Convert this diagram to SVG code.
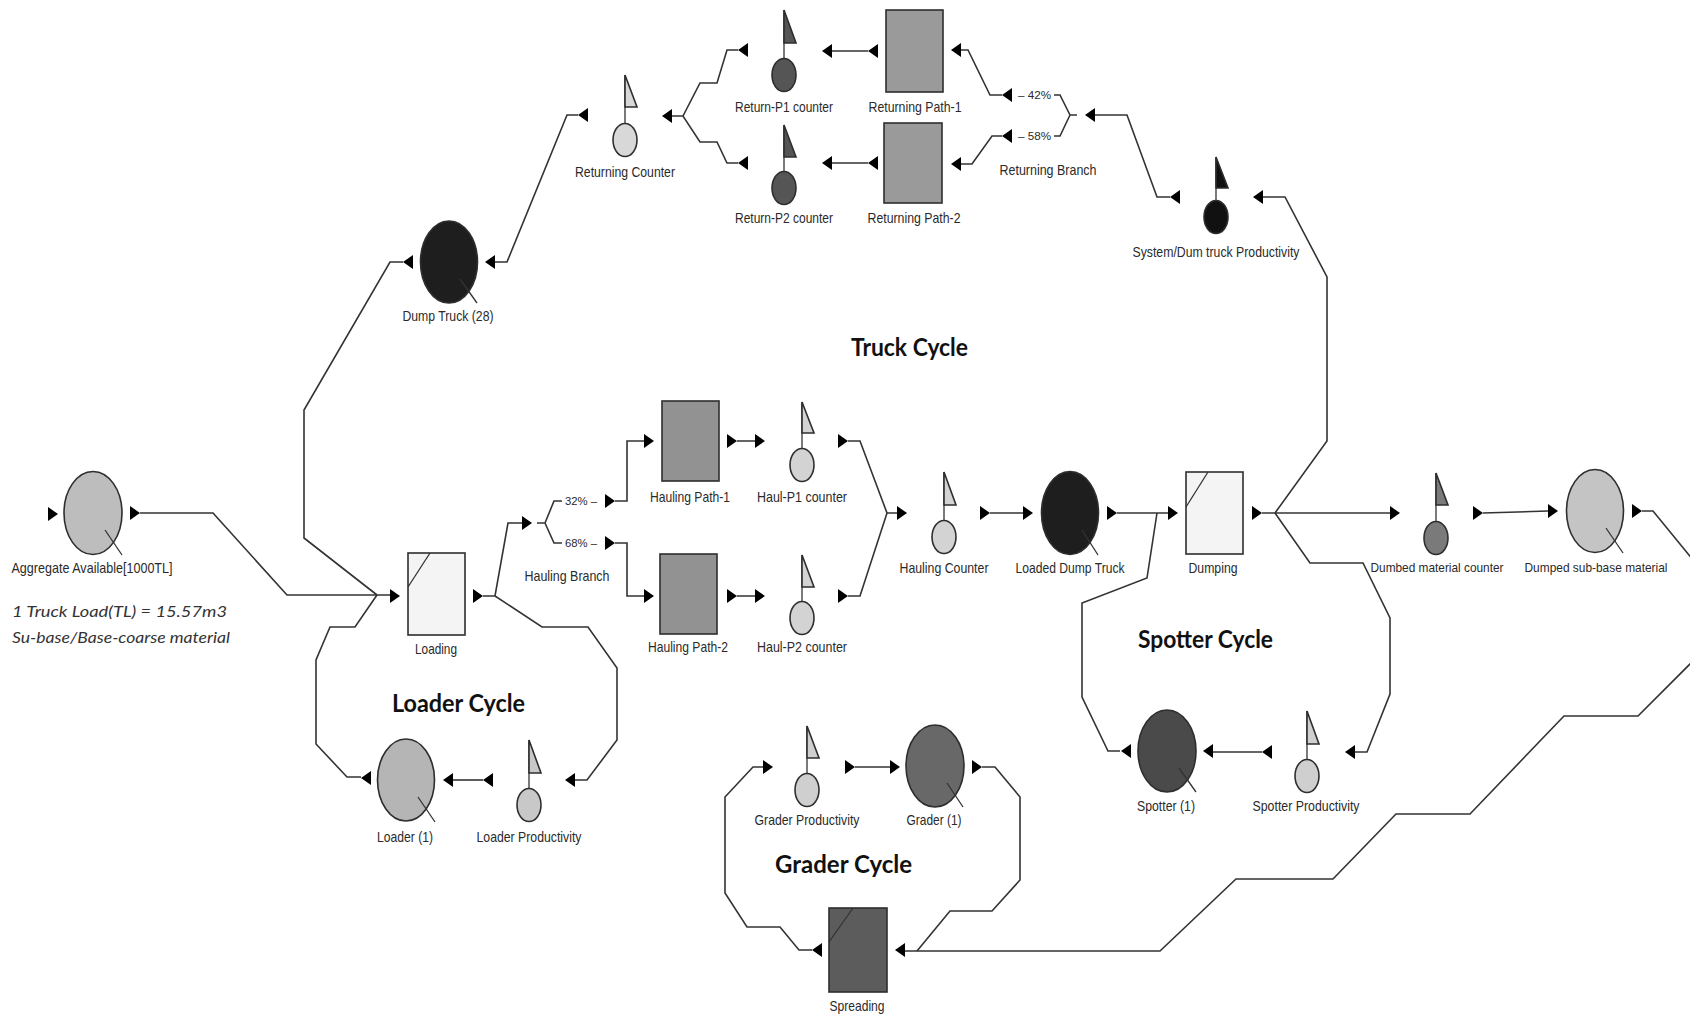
<svg xmlns="http://www.w3.org/2000/svg" width="1690" height="1021" viewBox="0 0 1690 1021">
  <style>
    .bg { fill: #ffffff; }
    .wire { fill: none; stroke: #333333; stroke-width: 1.6; stroke-linejoin: miter; }
    .edge { stroke: #2e2e2e; stroke-width: 1.6; }
    .stub { stroke: #333333; stroke-width: 1.3; }
    .lbl { font-family: "Liberation Sans", Arial, sans-serif; font-size: 15px; fill: #2a2a2a; text-anchor: middle; }
    .sm { font-size: 13px; }
    .pct { font-family: "Liberation Sans", Arial, sans-serif; font-size: 11px; fill: #2a2a2a; }
    .cyc { font-family: Lato, "Noto Sans", sans-serif; font-weight: bold; font-size: 24px; fill: #111111; }
    .note { font-family: Lato, "Liberation Sans", sans-serif; font-style: italic; font-size: 16px; fill: #333333; }
    .head { fill: #000000; }
  </style>
  <defs>
    <!-- port arrowheads, origin at the tip -->
    <path id="ar" class="head" d="M-10,-7 L0,0 L-10,7 Z"/>
    <path id="al" class="head" d="M10,-7 L0,0 L10,7 Z"/>
  </defs>
  <rect class="bg" x="0" y="0" width="1690" height="1021"/>

  <!-- connectors -->
  <g id="connectors">
    <path class="wire" d="M140,513 H213 L287,595 H390"/>
    <path class="wire" d="M403,262 H390 L304,410 V538 L377,595"/>
    <path class="wire" d="M377,595 L355,627 H330 L316,660 V744 L347,777 H361"/>
    <path class="wire" d="M483,596 H495 L508,523 H522"/>
    <path class="wire" d="M495,596 L542,627 H588 L617,668 V740 L587,780 H575"/>
    <path class="wire" d="M537,523 H545 M545,523 L554,501 H562 M545,523 L554,543 H562"/>
    <path class="wire" d="M615,501 H627 V441 H644"/>
    <path class="wire" d="M615,543 H627 V596 H644"/>
    <path class="wire" d="M737,441 H755 M737,596 H755"/>
    <path class="wire" d="M848,441 H860 L887,513 M848,596 H860 L887,513 H897"/>
    <path class="wire" d="M990,513 H1023"/>
    <path class="wire" d="M1117,513 H1168"/>
    <path class="wire" d="M1157,513 L1147,578 L1082,603 V697 L1108,751 H1120"/>
    <path class="wire" d="M1262,513 H1390"/>
    <path class="wire" d="M1275,513 L1327,441 V277 L1285,197 H1263"/>
    <path class="wire" d="M1275,513 L1310,563 H1363 L1390,618 V694 L1367,752 H1355"/>
    <path class="wire" d="M1483,513 L1548,511"/>
    <path class="wire" d="M1642,511 H1653 L1720,593 V634 L1638,716 H1564 L1470,814 H1396 L1333,879 H1236 L1160,951 H905"/>
    <path class="wire" d="M982,767 H995 L1020,797 V880 L992,911 H950 L917,951"/>
    <path class="wire" d="M812,950 H799 L780,927 H747 L725,893 V797 L753,767 H763"/>
    <path class="wire" d="M855,767 H890"/>
    <path class="wire" d="M1262,752 H1213"/>
    <path class="wire" d="M483,780 H453"/>
    <path class="wire" d="M1170,197 H1157 L1127,115 H1095"/>
    <path class="wire" d="M1077,115 H1070 L1060,95 H1054 M1070,115 L1060,136 H1054"/>
    <path class="wire" d="M1002,95 H990 L968,50 H961"/>
    <path class="wire" d="M1002,136 H992 L972,164 H961"/>
    <path class="wire" d="M868,51 H832 M868,163 H832"/>
    <path class="wire" d="M738,50 H727 L717,83 H700 L683,116 M738,163 H727 L717,142 H700 L683,116 H672"/>
    <path class="wire" d="M578,115 H567 L507,262 H495"/>

    <!-- ports pointing right -->
    <use href="#ar" x="58" y="514"/>
    <use href="#ar" x="140" y="513"/>
    <use href="#ar" x="400" y="596"/>
    <use href="#ar" x="483" y="596"/>
    <use href="#ar" x="532" y="523"/>
    <use href="#ar" x="615" y="501"/>
    <use href="#ar" x="615" y="543"/>
    <use href="#ar" x="654" y="441"/>
    <use href="#ar" x="654" y="596"/>
    <use href="#ar" x="737" y="441"/>
    <use href="#ar" x="765" y="441"/>
    <use href="#ar" x="737" y="596"/>
    <use href="#ar" x="765" y="596"/>
    <use href="#ar" x="848" y="441"/>
    <use href="#ar" x="848" y="596"/>
    <use href="#ar" x="907" y="513"/>
    <use href="#ar" x="990" y="513"/>
    <use href="#ar" x="1033" y="513"/>
    <use href="#ar" x="1117" y="513"/>
    <use href="#ar" x="1178" y="513"/>
    <use href="#ar" x="1262" y="513"/>
    <use href="#ar" x="1400" y="513"/>
    <use href="#ar" x="1483" y="513"/>
    <use href="#ar" x="1558" y="511"/>
    <use href="#ar" x="1642" y="511"/>
    <use href="#ar" x="773" y="767"/>
    <use href="#ar" x="855" y="767"/>
    <use href="#ar" x="900" y="767"/>
    <use href="#ar" x="982" y="767"/>

    <!-- ports pointing left -->
    <use href="#al" x="361" y="778"/>
    <use href="#al" x="1121" y="751"/>
    <use href="#al" x="403" y="262"/>
    <use href="#al" x="485" y="262"/>
    <use href="#al" x="578" y="115"/>
    <use href="#al" x="662" y="116"/>
    <use href="#al" x="738" y="50"/>
    <use href="#al" x="738" y="163"/>
    <use href="#al" x="822" y="51"/>
    <use href="#al" x="822" y="163"/>
    <use href="#al" x="868" y="51"/>
    <use href="#al" x="868" y="163"/>
    <use href="#al" x="951" y="50"/>
    <use href="#al" x="951" y="164"/>
    <use href="#al" x="1002" y="95"/>
    <use href="#al" x="1002" y="136"/>
    <use href="#al" x="1085" y="115"/>
    <use href="#al" x="1170" y="197"/>
    <use href="#al" x="1253" y="197"/>
    <use href="#al" x="483" y="780"/>
    <use href="#al" x="565" y="780"/>
    <use href="#al" x="443" y="780"/>
    <use href="#al" x="1203" y="751"/>
    <use href="#al" x="1262" y="752"/>
    <use href="#al" x="1345" y="752"/>
    <use href="#al" x="812" y="950"/>
    <use href="#al" x="895" y="950"/>
  </g>

  <!-- queue nodes -->
  <g id="aggregate-available">
    <ellipse class="edge" cx="93" cy="513" rx="29" ry="41.5" fill="#bdbdbd"/>
    <line class="stub" x1="105" y1="530" x2="122" y2="555"/>
    <text class="lbl" x="92" y="573" textLength="161" lengthAdjust="spacingAndGlyphs">Aggregate Available[1000TL]</text>
  </g>
  <g id="dump-truck">
    <ellipse class="edge" cx="449" cy="262" rx="28.5" ry="41" fill="#1e1e1e"/>
    <line class="stub" x1="460" y1="279" x2="477" y2="303"/>
    <text class="lbl" x="448" y="321" textLength="91" lengthAdjust="spacingAndGlyphs">Dump Truck (28)</text>
  </g>
  <g id="loaded-dump-truck">
    <ellipse class="edge" cx="1070" cy="513" rx="28.5" ry="41.5" fill="#1e1e1e"/>
    <line class="stub" x1="1082" y1="530" x2="1098" y2="555"/>
    <text class="lbl" x="1070" y="573" textLength="109" lengthAdjust="spacingAndGlyphs">Loaded Dump Truck</text>
  </g>
  <g id="dumped-sub-base">
    <ellipse class="edge" cx="1595" cy="511" rx="28.5" ry="41.5" fill="#c4c4c4"/>
    <line class="stub" x1="1606" y1="528" x2="1623" y2="553"/>
    <text class="lbl sm" x="1596" y="572" textLength="143" lengthAdjust="spacingAndGlyphs">Dumped sub-base material</text>
  </g>
  <g id="loader">
    <ellipse class="edge" cx="406" cy="780" rx="28.5" ry="41" fill="#b5b5b5"/>
    <line class="stub" x1="418" y1="797" x2="435" y2="822"/>
    <text class="lbl" x="405" y="842" textLength="56" lengthAdjust="spacingAndGlyphs">Loader (1)</text>
  </g>
  <g id="spotter">
    <ellipse class="edge" cx="1167" cy="751" rx="29" ry="41" fill="#4a4a4a"/>
    <line class="stub" x1="1179" y1="768" x2="1196" y2="792"/>
    <text class="lbl" x="1166" y="811" textLength="58" lengthAdjust="spacingAndGlyphs">Spotter (1)</text>
  </g>
  <g id="grader">
    <ellipse class="edge" cx="935" cy="766" rx="29" ry="41" fill="#686868"/>
    <line class="stub" x1="947" y1="783" x2="963" y2="807"/>
    <text class="lbl" x="934" y="825" textLength="55" lengthAdjust="spacingAndGlyphs">Grader (1)</text>
  </g>

  <!-- activity nodes -->
  <g id="loading">
    <rect class="edge" x="408" y="553" width="57" height="82" fill="#f4f4f4"/>
    <line class="stub" x1="408" y1="587" x2="430" y2="553"/>
    <text class="lbl" x="436" y="654" textLength="42" lengthAdjust="spacingAndGlyphs">Loading</text>
  </g>
  <g id="dumping">
    <rect class="edge" x="1186" y="472" width="57" height="82" fill="#f4f4f4"/>
    <line class="stub" x1="1186" y1="507" x2="1208" y2="472"/>
    <text class="lbl" x="1213" y="573" textLength="49" lengthAdjust="spacingAndGlyphs">Dumping</text>
  </g>
  <g id="spreading">
    <rect class="edge" x="829" y="908" width="58" height="84" fill="#5c5c5c"/>
    <line class="stub" x1="829" y1="942" x2="853" y2="908"/>
    <text class="lbl" x="857" y="1011" textLength="55" lengthAdjust="spacingAndGlyphs">Spreading</text>
  </g>
  <g id="hauling-path-1">
    <rect class="edge" x="662" y="401" width="57" height="80" fill="#929292"/>
    <text class="lbl" x="690" y="502" textLength="80" lengthAdjust="spacingAndGlyphs">Hauling Path-1</text>
  </g>
  <g id="hauling-path-2">
    <rect class="edge" x="660" y="554" width="57" height="80" fill="#929292"/>
    <text class="lbl" x="688" y="652" textLength="80" lengthAdjust="spacingAndGlyphs">Hauling Path-2</text>
  </g>
  <g id="returning-path-1">
    <rect class="edge" x="886" y="10" width="57" height="82" fill="#9a9a9a"/>
    <text class="lbl" x="915" y="112" textLength="93" lengthAdjust="spacingAndGlyphs">Returning Path-1</text>
  </g>
  <g id="returning-path-2">
    <rect class="edge" x="884" y="123" width="58" height="80" fill="#9a9a9a"/>
    <text class="lbl" x="914" y="223" textLength="93" lengthAdjust="spacingAndGlyphs">Returning Path-2</text>
  </g>

  <!-- branch nodes -->
  <g id="hauling-branch">
    <text class="pct" x="565" y="505" textLength="32" lengthAdjust="spacingAndGlyphs">32% –</text>
    <text class="pct" x="565" y="547" textLength="32" lengthAdjust="spacingAndGlyphs">68% –</text>
    <text class="lbl" x="567" y="581" textLength="85" lengthAdjust="spacingAndGlyphs">Hauling Branch</text>
  </g>
  <g id="returning-branch">
    <text class="pct" x="1018" y="99" textLength="33" lengthAdjust="spacingAndGlyphs">– 42%</text>
    <text class="pct" x="1018" y="140" textLength="33" lengthAdjust="spacingAndGlyphs">– 58%</text>
    <text class="lbl" x="1048" y="175" textLength="97" lengthAdjust="spacingAndGlyphs">Returning Branch</text>
  </g>

  <!-- counter nodes -->
  <g id="haul-p1-counter">
    <line class="stub" x1="802" y1="402" x2="802" y2="449"/>
    <path class="edge" d="M802,402 L814,433 H802 Z" fill="#d3d3d3"/>
    <ellipse class="edge" cx="802" cy="465" rx="12" ry="16.5" fill="#d3d3d3"/>
    <text class="lbl" x="802" y="502" textLength="90" lengthAdjust="spacingAndGlyphs">Haul-P1 counter</text>
  </g>
  <g id="haul-p2-counter">
    <line class="stub" x1="802" y1="555" x2="802" y2="602"/>
    <path class="edge" d="M802,555 L814,587 H802 Z" fill="#d3d3d3"/>
    <ellipse class="edge" cx="802" cy="618" rx="12" ry="16.5" fill="#d3d3d3"/>
    <text class="lbl" x="802" y="652" textLength="90" lengthAdjust="spacingAndGlyphs">Haul-P2 counter</text>
  </g>
  <g id="hauling-counter">
    <line class="stub" x1="944" y1="472" x2="944" y2="521"/>
    <path class="edge" d="M944,472 L956,505 H944 Z" fill="#d3d3d3"/>
    <ellipse class="edge" cx="944" cy="537" rx="12" ry="16.5" fill="#d3d3d3"/>
    <text class="lbl" x="944" y="573" textLength="89" lengthAdjust="spacingAndGlyphs">Hauling Counter</text>
  </g>
  <g id="dumbed-material-counter">
    <line class="stub" x1="1436" y1="473" x2="1436" y2="522"/>
    <path class="edge" d="M1436,473 L1448,505 H1436 Z" fill="#7a7a7a"/>
    <ellipse class="edge" cx="1436" cy="538" rx="12" ry="16.5" fill="#7a7a7a"/>
    <text class="lbl sm" x="1437" y="572" textLength="133" lengthAdjust="spacingAndGlyphs">Dumbed material counter</text>
  </g>
  <g id="returning-counter">
    <line class="stub" x1="625" y1="75" x2="625" y2="124"/>
    <path class="edge" d="M625,75 L637,107 H625 Z" fill="#d8d8d8"/>
    <ellipse class="edge" cx="625" cy="140" rx="12" ry="16.5" fill="#d8d8d8"/>
    <text class="lbl" x="625" y="177" textLength="100" lengthAdjust="spacingAndGlyphs">Returning Counter</text>
  </g>
  <g id="return-p1-counter">
    <line class="stub" x1="784" y1="10" x2="784" y2="59"/>
    <path class="edge" d="M784,10 L796,43 H784 Z" fill="#555555"/>
    <ellipse class="edge" cx="784" cy="75" rx="12" ry="16.5" fill="#555555"/>
    <text class="lbl" x="784" y="112" textLength="98" lengthAdjust="spacingAndGlyphs">Return-P1 counter</text>
  </g>
  <g id="return-p2-counter">
    <line class="stub" x1="784" y1="125" x2="784" y2="172"/>
    <path class="edge" d="M784,125 L796,157 H784 Z" fill="#555555"/>
    <ellipse class="edge" cx="784" cy="188" rx="12" ry="16.5" fill="#555555"/>
    <text class="lbl" x="784" y="223" textLength="98" lengthAdjust="spacingAndGlyphs">Return-P2 counter</text>
  </g>
  <g id="system-productivity">
    <line class="stub" x1="1216" y1="157" x2="1216" y2="201"/>
    <path class="edge" d="M1216,157 L1228,188 H1216 Z" fill="#111111"/>
    <ellipse class="edge" cx="1216" cy="217" rx="12" ry="16.5" fill="#111111"/>
    <text class="lbl" x="1216" y="257" textLength="167" lengthAdjust="spacingAndGlyphs">System/Dum truck Productivity</text>
  </g>
  <g id="loader-productivity">
    <line class="stub" x1="529" y1="740" x2="529" y2="789"/>
    <path class="edge" d="M529,740 L541,773 H529 Z" fill="#c8c8c8"/>
    <ellipse class="edge" cx="529" cy="805" rx="12" ry="16.5" fill="#c8c8c8"/>
    <text class="lbl" x="529" y="842" textLength="105" lengthAdjust="spacingAndGlyphs">Loader Productivity</text>
  </g>
  <g id="spotter-productivity">
    <line class="stub" x1="1307" y1="711" x2="1307" y2="760"/>
    <path class="edge" d="M1307,711 L1319,744 H1307 Z" fill="#cfcfcf"/>
    <ellipse class="edge" cx="1307" cy="776" rx="12" ry="16.5" fill="#cfcfcf"/>
    <text class="lbl" x="1306" y="811" textLength="107" lengthAdjust="spacingAndGlyphs">Spotter Productivity</text>
  </g>
  <g id="grader-productivity">
    <line class="stub" x1="807" y1="726" x2="807" y2="774"/>
    <path class="edge" d="M807,726 L819,758 H807 Z" fill="#cfcfcf"/>
    <ellipse class="edge" cx="807" cy="790" rx="12" ry="16.5" fill="#cfcfcf"/>
    <text class="lbl" x="807" y="825" textLength="105" lengthAdjust="spacingAndGlyphs">Grader Productivity</text>
  </g>

  <!-- cycle titles and notes -->
  <g id="titles">
    <text class="cyc" x="851" y="356" textLength="117" lengthAdjust="spacingAndGlyphs">Truck Cycle</text>
    <text class="cyc" x="392" y="712" textLength="133" lengthAdjust="spacingAndGlyphs">Loader Cycle</text>
    <text class="cyc" x="1138" y="648" textLength="135" lengthAdjust="spacingAndGlyphs">Spotter Cycle</text>
    <text class="cyc" x="775" y="873" textLength="137" lengthAdjust="spacingAndGlyphs">Grader Cycle</text>
    <text class="note" x="12" y="617" textLength="215" lengthAdjust="spacingAndGlyphs">1 Truck Load(TL) = 15.57m3</text>
    <text class="note" x="12" y="643" textLength="218" lengthAdjust="spacingAndGlyphs">Su-base/Base-coarse material</text>
  </g>
</svg>
